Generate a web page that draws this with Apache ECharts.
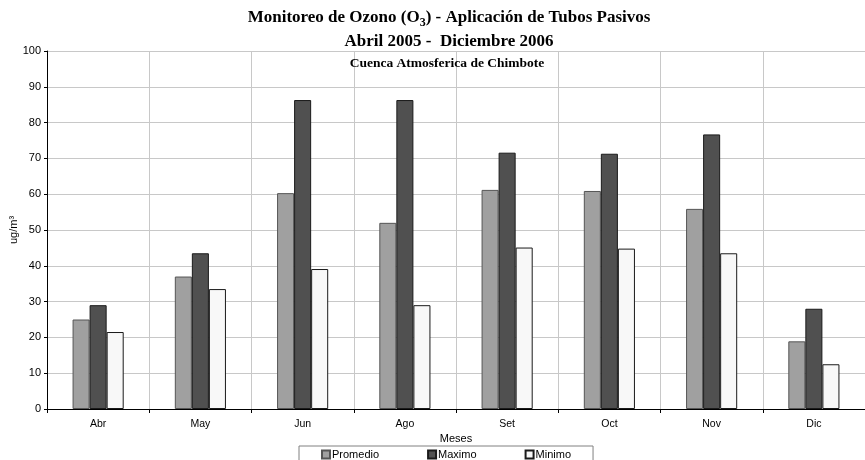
<!DOCTYPE html>
<html>
<head>
<meta charset="utf-8">
<script src="https://cdn.jsdelivr.net/npm/echarts@6/dist/echarts.min.js"></script>
<style>
  html, body { margin: 0; padding: 0; background: #fff; }
  #chart { width: 865px; height: 460px; }
</style>
</head>
<body>
<div id="chart"></div>
<script>
// datos
const meses = ['Abr', 'May', 'Jun', 'Ago', 'Set', 'Oct', 'Nov', 'Dic']
const promedio = [25, 37, 60.3, 52, 61.2, 60.9, 55.9, 18.9]
const maximo = [29, 43.5, 86.3, 86.3, 71.6, 71.3, 76.7, 28]
const minimo = [21.5, 33.5, 39.1, 29, 45.1, 44.8, 43.5, 12.5]
const yTicks = [0, 10, 20, 30, 40, 50, 60, 70, 80, 90, 100]

const chart = echarts.init(document.getElementById('chart'))

const serif = 'Liberation Serif, Times New Roman, serif'
const sans = 'Liberation Sans, Arial, sans-serif'

const option = {
  backgroundColor: '#fff',
  animation: false,
  title: [
    {
      left: 444,
      top: 1,
      textAlign: 'center',
      text: '{a|Monitoreo de Ozono (O}{s|3}{a|) - Aplicación de Tubos Pasivos}\n{a|Abril 2005 -  Diciembre 2006}',
      textStyle: {
        rich: {
          a: { fontFamily: serif, fontWeight: 'bold', fontSize: 17, color: '#000', lineHeight: 24 },
          s: { fontFamily: serif, fontWeight: 'bold', fontSize: 12, color: '#000', lineHeight: 24, padding: [9, 0, 0, 0] }
        }
      }
    },
    {
      left: 442,
      top: 52,
      textAlign: 'center',
      text: 'Cuenca Atmosferica de Chimbote',
      textStyle: { fontFamily: serif, fontWeight: 'bold', fontSize: 13.5, color: '#000' }
    }
  ],
  grid: { left: 47, right: 0, top: 51, bottom: 51, outerBoundsMode: 'none' },
  legend: {
    data: ['Promedio', 'Maximo', 'Minimo'],
    left: 299,
    bottom: -3,
    itemWidth: 8,
    itemHeight: 8,
    itemGap: 48,
    padding: [3, 22, 3, 22],
    borderColor: '#808080',
    borderWidth: 1,
    icon: 'rect',
    textStyle: { fontFamily: sans, fontSize: 11, color: '#000', padding: [0, 0, 0, -3] }
  },
  xAxis: {
    type: 'category',
    data: meses,
    name: 'Meses',
    nameLocation: 'middle',
    nameGap: 24,
    nameMoveOverlap: false,
    nameTextStyle: { fontFamily: sans, fontSize: 11, color: '#000' },
    axisLine: { lineStyle: { color: '#000', width: 1 } },
    axisTick: { show: true, length: 4, lineStyle: { color: '#000' } },
    axisLabel: { fontFamily: sans, fontSize: 10.5, color: '#000', margin: 10 },
    splitLine: { show: true, lineStyle: { color: '#c8c8c8', width: 1 } }
  },
  yAxis: {
    type: 'value',
    min: yTicks[0],
    max: yTicks[yTicks.length - 1],
    interval: 10,
    name: 'ug/m³',
    nameLocation: 'middle',
    nameGap: 28,
    nameRotate: 90,
    nameMoveOverlap: false,
    nameTextStyle: { fontFamily: sans, fontSize: 11, color: '#000' },
    axisLine: { show: true, lineStyle: { color: '#000', width: 1 } },
    axisTick: { show: true, length: 3, lineStyle: { color: '#000' } },
    axisLabel: { fontFamily: sans, fontSize: 11, color: '#000', margin: 6 },
    splitLine: { show: true, lineStyle: { color: '#c8c8c8', width: 1 } }
  },
  series: [
    {
      name: 'Promedio',
      type: 'bar',
      data: promedio,
      barGap: '0%',
      barCategoryGap: '50%',
      itemStyle: { color: '#a0a0a0', borderColor: '#555', borderWidth: 1 }
    },
    {
      name: 'Maximo',
      type: 'bar',
      data: maximo,
      itemStyle: { color: '#505050', borderColor: '#1a1a1a', borderWidth: 1 }
    },
    {
      name: 'Minimo',
      type: 'bar',
      data: minimo,
      itemStyle: { color: '#f8f8f8', borderColor: '#1a1a1a', borderWidth: 1 }
    }
  ]
}

chart.setOption(option)
</script>
</body>
</html>
